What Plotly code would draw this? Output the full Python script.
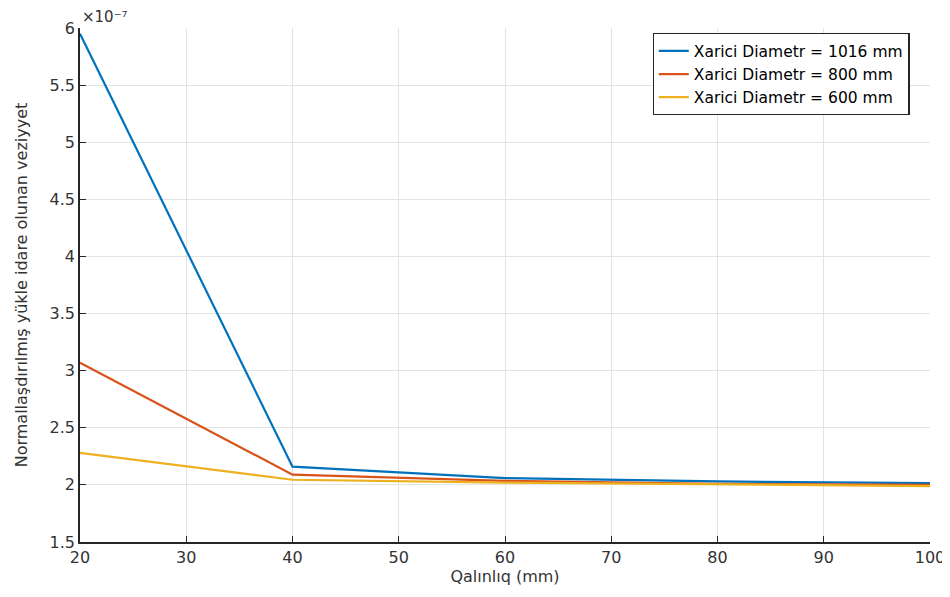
import plotly.graph_objects as go

# Thickness (mm) and normalised values (x 1e-7)
thickness = [20, 40, 60, 80, 100]
d1016 = [5.95, 2.16, 2.06, 2.03, 2.015]
d800 = [3.07, 2.09, 2.035, 2.01, 2.0]
d600 = [2.28, 2.045, 2.02, 2.005, 1.99]

series = [
    ('Xarici Diametr = 1016 mm', d1016, '#0072BD'),
    ('Xarici Diametr = 800 mm', d800, '#D95319'),
    ('Xarici Diametr = 600 mm', d600, '#EDB120'),
]

y_ticks = [1.5, 2, 2.5, 3, 3.5, 4, 4.5, 5, 5.5, 6]
x_ticks = [20, 30, 40, 50, 60, 70, 80, 90, 100]

FONT = 'DejaVu Sans, Arial, sans-serif'
AXIS = '#262626'
TEXT = '#333333'

fig = go.Figure()
for name, vals, color in series:
    fig.add_trace(go.Scatter(
        x=thickness, y=vals,
        mode='lines',
        name=name,
        line=dict(color=color, width=2.2)
    ))

# page body has an 8px margin, so the figure is shifted by 8px
fig.update_layout(
    width=942, height=581,
    margin=dict(l=72, r=20, t=20, b=47),
    paper_bgcolor='white',
    plot_bgcolor='white',
    font=dict(family=FONT, color=TEXT, size=15),
    legend=dict(
        x=0.976, y=0.99, xanchor='right', yanchor='top',
        bgcolor='white', bordercolor=AXIS, borderwidth=1.2,
        font=dict(size=15.5, color='#000000'),
        tracegroupgap=0,
    ),
    xaxis=dict(
        range=[20, 100], tickvals=x_ticks,
        showgrid=True, gridcolor='#e3e3e3', gridwidth=1,
        showline=True, linecolor=AXIS, linewidth=1.5,
        ticks='inside', ticklen=6, tickcolor=AXIS,
        tickfont=dict(size=16, color=TEXT),
        zeroline=False, automargin=False,
        title=dict(text='Qalınlıq (mm)', font=dict(size=16, color=TEXT), standoff=4),
    ),
    yaxis=dict(
        range=[1.5, 6], tickvals=y_ticks,
        ticktext=[f'{v:g}' for v in y_ticks],
        showgrid=True, gridcolor='#e3e3e3', gridwidth=1,
        showline=True, linecolor=AXIS, linewidth=1.5,
        ticks='inside', ticklen=6, tickcolor=AXIS,
        tickfont=dict(size=16, color=TEXT),
        zeroline=False, automargin=False,
        title=dict(text='Normallaşdırılmış yükle idare olunan veziyyet',
                   font=dict(size=16, color=TEXT), standoff=18),
    ),
    showlegend=True,
)

fig.add_annotation(
    x=0, y=1, xref='paper', yref='paper',
    xanchor='left', yanchor='bottom', yshift=0,
    text='×10⁻⁷', showarrow=False,
    font=dict(size=15, color=TEXT, family=FONT)
)

fig.write_html('out.html')
